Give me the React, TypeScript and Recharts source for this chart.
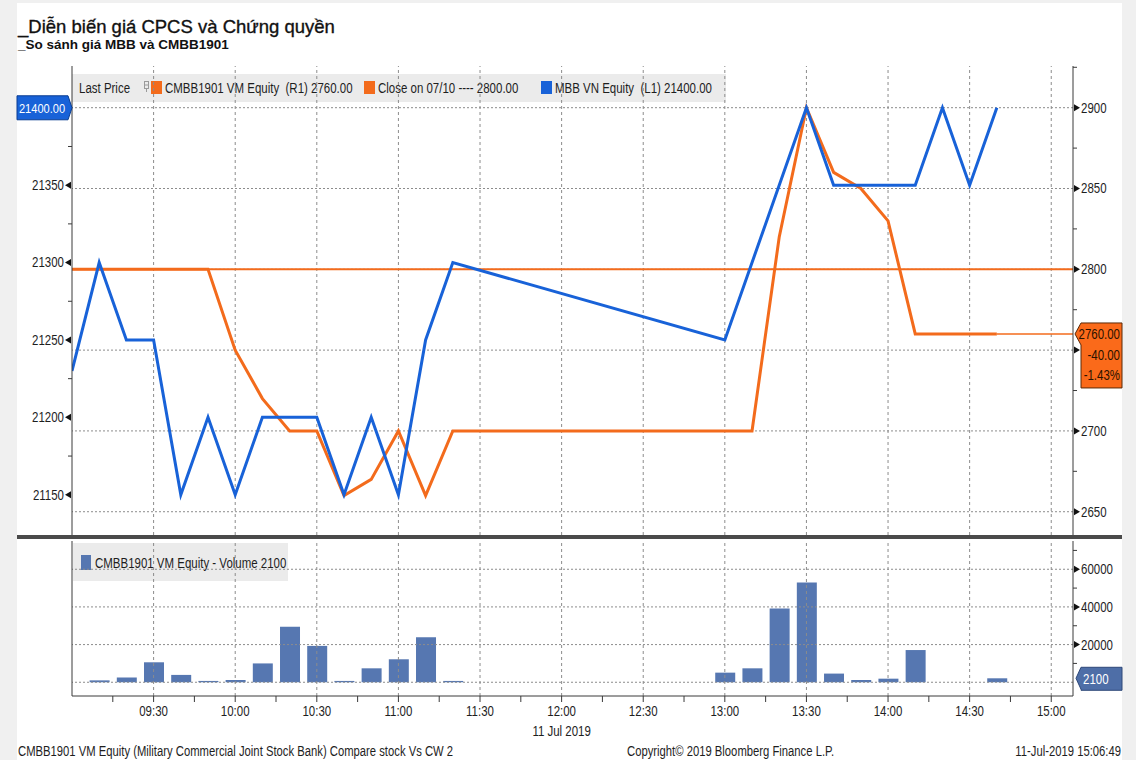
import { ComposedChart, Line, Bar, XAxis, YAxis, ReferenceLine } from "recharts";

// intraday samples, 11 Jul 2019
const times = [
  "09:00", "09:10", "09:20", "09:30", "09:40", "09:50", "10:00", "10:10", "10:20", "10:30",
  "10:40", "10:50", "11:00", "11:10", "11:20", "13:00", "13:10", "13:20", "13:30", "13:40",
  "13:50", "14:00", "14:10", "14:20", "14:30", "14:40",
];
const mbbPrice = [
  21230, 21300, 21250, 21250, 21150, 21200, 21150, 21200, 21200, 21200,
  21150, 21200, 21150, 21250, 21300, 21250, null, null, 21400, 21350,
  21350, 21350, 21350, 21400, 21350, 21400,
];
const cwPrice = [
  2800, 2800, 2800, 2800, 2800, 2800, 2750, 2720, 2700, 2700,
  2660, 2670, 2700, 2660, 2700, 2700, 2700, 2820, 2900, 2860,
  2850, 2830, 2760, 2760, 2760, 2760,
];
const cwVolume = [
  null, 1000, 2500, 10600, 3900, 700, 1200, 10000, 29500, 19300,
  700, 7400, 12200, 23900, 700, 5100, 7400, 39200, 53000, 4600,
  1200, 1900, 17100, null, null, 2100,
];

const prevClose = 2800;
const prevCloseDate = "07/10";

const xMajorTicks = ["09:30", "10:00", "10:30", "11:00", "11:30", "12:00", "12:30", "13:00", "13:30", "14:00", "14:30", "15:00"];
const xMinorTicks = ["09:15", "09:45", "10:15", "10:45", "11:15", "11:45", "12:15", "12:45", "13:15", "13:45", "14:15", "14:45"];
const dateLabel = "11 Jul 2019";
const dateLabelAt = "12:00";

const leftTicks = [21150, 21200, 21250, 21300, 21350];
const leftMinorTicks = [21175, 21225, 21275, 21325, 21375];
const rightTicks = [2650, 2700, 2750, 2800, 2850, 2900];
const rightMinorTicks = [2675, 2725, 2775, 2825, 2875, 2925];
const volumeTicks = [20000, 40000, 60000];
const volumeMinorTicks = [10000, 30000, 50000, 70000];
const volumeGrid = [0, 20000, 40000, 60000];

const timeRange = ["09:00", "15:08"];
const mbbRange = [21124, 21427];
const cwRange = [2635.6, 2925.8];
const volumeRange = [-7300, 75000];

const BLUE = "#1862d8";
const ORANGE = "#f36b1c";
const VOL = "#5677b1";
const GRID = "#8c8c8c";
const AXIS = "#3a3a3a";
const TEXT = "#1e1e1e";
const FONT = '"Liberation Sans", Arial, sans-serif';
const NARROW = 0.82; // no Arial Narrow here, squeeze Liberation Sans instead

const toMin = (s: string) => {
  const [h, m] = s.split(":").map(Number);
  return h * 60 + m;
};
const fmtTime = (v: number) =>
  `${String(Math.floor(v / 60)).padStart(2, "0")}:${String(v % 60).padStart(2, "0")}`;

const data = times.map((t, i) => ({ t: toMin(t), mbb: mbbPrice[i], cw: cwPrice[i], vol: cwVolume[i] }));

const lastMbb = mbbPrice[mbbPrice.length - 1] as number;
const lastCw = cwPrice[cwPrice.length - 1];
const lastVolume = cwVolume[cwVolume.length - 1] as number;
const lastTime = toMin(times[times.length - 1]);
const cwChange = lastCw - prevClose;
const cwChangePct = (cwChange / prevClose) * 100;

const xDomain = [toMin(timeRange[0]), toMin(timeRange[1])];

const NText = ({ x, y, size = 14, anchor = "start", fill = TEXT, children }: any) => (
  <text
    transform={`translate(${x} ${y}) scale(${NARROW} 1)`}
    textAnchor={anchor}
    dominantBaseline="central"
    fontSize={size}
    fontFamily={FONT}
    fill={fill}
    style={{ whiteSpace: "pre" }}
  >
    {children}
  </text>
);

const LeftTick = (props: any) => {
  const { x, y, payload } = props;
  const v = payload.value;
  if (v === lastMbb) {
    return (
      <g>
        <path d={`M${x - 55},${y - 12} H${x - 4} L${x},${y} L${x - 4},${y + 12} H${x - 55} Z`} fill={BLUE} stroke="#0a3d92" />
        <NText x={x - 30} y={y + 1} anchor="middle" fill="#fff" size={13.5}>{lastMbb.toFixed(2)}</NText>
      </g>
    );
  }
  if (leftTicks.includes(v)) {
    return (
      <g>
        <polygon points={`${x - 1},${y - 3.5} ${x - 1},${y + 3.5} ${x - 7},${y}`} fill="#111" />
        <NText x={x - 8} y={y} anchor="end">{v}</NText>
      </g>
    );
  }
  return <line x1={x - 4} x2={x} y1={y} y2={y} stroke={AXIS} />;
};

// the last-price tag covers the tick label just below it
const underCwTag = (v: number) => v < lastCw && v > lastCw - 34;

const RightTick = (props: any) => {
  const { x, y, payload } = props;
  const v = payload.value;
  if (v === lastCw) {
    return (
      <g>
        <path d={`M${x + 2},${y} L${x + 8},${y - 11} H${x + 49} V${y + 54} H${x + 8} V${y + 11} Z`} fill="#fa6a1a" stroke="#5a2a08" />
        <NText x={x + 47} y={y} anchor="end" fill="#2a1200">{lastCw.toFixed(2)}</NText>
        <NText x={x + 47} y={y + 21} anchor="end" fill="#2a1200">{cwChange.toFixed(2)}</NText>
        <NText x={x + 47} y={y + 41} anchor="end" fill="#2a1200">{`${cwChangePct.toFixed(2)}%`}</NText>
      </g>
    );
  }
  if (rightTicks.includes(v)) {
    return (
      <g>
        <polygon points={`${x + 1},${y - 3.5} ${x + 1},${y + 3.5} ${x + 7},${y}`} fill="#111" />
        {!underCwTag(v) && <NText x={x + 8} y={y}>{v}</NText>}
      </g>
    );
  }
  return <line x1={x} x2={x + 4} y1={y} y2={y} stroke={AXIS} />;
};

const VolumeTick = (props: any) => {
  const { x, y, payload } = props;
  const v = payload.value;
  if (v === lastVolume) {
    return (
      <g>
        <path d={`M${x + 3},${y} L${x + 8},${y - 11} H${x + 49} V${y + 12} H${x + 8} V${y + 11} Z`} fill="#4e6ea7" stroke="#2e4878" />
        <NText x={x + 10} y={y + 1} fill="#fff">{lastVolume}</NText>
      </g>
    );
  }
  if (volumeTicks.includes(v)) {
    return (
      <g>
        <polygon points={`${x + 1},${y - 3.5} ${x + 1},${y + 3.5} ${x + 7},${y}`} fill="#111" />
        <NText x={x + 8} y={y}>{v}</NText>
      </g>
    );
  }
  return <line x1={x} x2={x + 4} y1={y} y2={y} stroke={AXIS} />;
};

const TimeTick = (props: any) => {
  const { x, y, payload } = props;
  const v = payload.value;
  const major = v % 30 === 0;
  return (
    <g>
      <line x1={x} x2={x} y1={y} y2={y + 6} stroke={AXIS} />
      {major && <NText x={x} y={y + 15} anchor="middle">{fmtTime(v)}</NText>}
      {v === toMin(dateLabelAt) && <NText x={x} y={y + 35} anchor="middle">{dateLabel}</NText>}
    </g>
  );
};

export default function App() {
  return (
    <div style={{ position: "absolute", left: 0, top: 0, width: 1136, height: 760, background: "#f0f0f0", overflow: "hidden" }}>
      <div style={{ position: "absolute", left: 17, top: 3, width: 1105, height: 757, background: "#fff" }} />

      <div
        style={{
          position: "absolute", left: 18, top: 17, fontFamily: FONT, fontSize: 18.5, lineHeight: "19px",
          color: "#111", whiteSpace: "pre", WebkitTextStroke: "0.35px #111",
        }}
      >
        _Diễn biến giá CPCS và Chứng quyền
      </div>
      <div style={{ position: "absolute", left: 18, top: 38, fontFamily: FONT, fontWeight: 700, fontSize: 13.5, lineHeight: "14px", color: "#111", whiteSpace: "pre" }}>
        _So sánh giá MBB và CMBB1901
      </div>

      {/* legends and footer, under the chart grids */}
      <svg width={1136} height={760} style={{ position: "absolute", left: 0, top: 0 }}>
        <rect x={72} y={74} width={654} height={28} fill="#ebebeb" />
        <NText x={79} y={88}>Last Price</NText>
        <rect x={144.5} y={81.5} width={4} height={7} fill="none" stroke="#9a9a9a" />
        <line x1={144.5} x2={148.5} y1={85} y2={85} stroke="#9a9a9a" />
        <line x1={146.5} x2={146.5} y1={88.5} y2={92} stroke="#9a9a9a" />
        <rect x={151} y={81} width={11} height={13} fill={ORANGE} />
        <NText x={165} y={88}>{`CMBB1901 VM Equity  (R1) ${lastCw.toFixed(2)}`}</NText>
        <rect x={364} y={81} width={11} height={13} fill={ORANGE} />
        <NText x={378} y={88}>{`Close on ${prevCloseDate} ---- ${prevClose.toFixed(2)}`}</NText>
        <rect x={541} y={81} width={11} height={13} fill={BLUE} />
        <NText x={555} y={88}>{`MBB VN Equity  (L1) ${lastMbb.toFixed(2)}`}</NText>

        <rect x={73} y={543} width={215} height={38} fill="#ebebeb" />
        <rect x={81} y={555} width={10} height={15} fill={VOL} />
        <NText x={95} y={563}>{`CMBB1901 VM Equity - Volume ${lastVolume}`}</NText>

        <NText x={18} y={752} size={13.75}>CMBB1901 VM Equity (Military Commercial Joint Stock Bank) Compare stock Vs CW 2</NText>
        <NText x={627} y={752} size={13.75}>Copyright© 2019 Bloomberg Finance L.P.</NText>
        <NText x={1121} y={752} size={13.75} anchor="end">11-Jul-2019 15:06:49</NText>
      </svg>

      <div style={{ position: "absolute", left: 0, top: 0 }}>
        <ComposedChart width={1136} height={540} data={data} margin={{ top: 66, right: 13, bottom: 5, left: 18 }}>
          <XAxis dataKey="t" type="number" domain={xDomain} allowDataOverflow hide />
          <YAxis
            yAxisId="L" orientation="left" width={54} domain={mbbRange} allowDataOverflow
            ticks={[...leftMinorTicks, ...leftTicks, lastMbb]} interval={0}
            tick={LeftTick} tickSize={0} tickMargin={0} tickLine={false} axisLine={{ stroke: AXIS }}
          />
          <YAxis
            yAxisId="R" orientation="right" width={50} domain={cwRange} allowDataOverflow
            ticks={[...rightMinorTicks, ...rightTicks, lastCw]} interval={0}
            tick={RightTick} tickSize={0} tickMargin={0} tickLine={false} axisLine={{ stroke: AXIS }}
          />
          {xMajorTicks.map((t) => (
            <ReferenceLine key={t} yAxisId="R" x={toMin(t)} stroke={GRID} strokeDasharray="3 3" />
          ))}
          {rightTicks.map((v) => (
            <ReferenceLine key={v} yAxisId="R" y={v} stroke={GRID} strokeDasharray="2 2" />
          ))}
          <ReferenceLine yAxisId="R" y={prevClose} stroke={ORANGE} strokeWidth={2} />
          <ReferenceLine
            yAxisId="R"
            segment={[{ x: lastTime, y: lastCw }, { x: xDomain[1], y: lastCw }]}
            stroke={ORANGE}
            strokeWidth={1.5}
          />
          <Line yAxisId="R" dataKey="cw" type="linear" stroke={ORANGE} strokeWidth={3} dot={false} activeDot={false} isAnimationActive={false} />
          <Line yAxisId="L" dataKey="mbb" type="linear" stroke={BLUE} strokeWidth={3} dot={false} activeDot={false} connectNulls isAnimationActive={false} />
        </ComposedChart>
      </div>

      <div style={{ position: "absolute", left: 17, top: 535, width: 1105, height: 4, background: "#4a4a4a" }} />

      <div style={{ position: "absolute", left: 0, top: 540 }}>
        <ComposedChart width={1136} height={220} data={data} margin={{ top: 1, right: 13, bottom: 0, left: 72 }}>
          <XAxis
            dataKey="t" type="number" domain={xDomain} allowDataOverflow height={64}
            ticks={[...xMinorTicks, ...xMajorTicks].map(toMin)} interval={0}
            tick={TimeTick} tickSize={0} tickMargin={0} tickLine={false} axisLine={{ stroke: AXIS }}
          />
          <YAxis
            yAxisId="V" orientation="right" width={50} domain={volumeRange} allowDataOverflow
            ticks={[...volumeMinorTicks, ...volumeTicks, lastVolume]} interval={0}
            tick={VolumeTick} tickSize={0} tickMargin={0} tickLine={false} axisLine={{ stroke: AXIS }}
          />
          {xMajorTicks.map((t) => (
            <ReferenceLine key={t} yAxisId="V" x={toMin(t)} stroke={GRID} strokeDasharray="3 3" />
          ))}
          {volumeGrid.map((v) => (
            <ReferenceLine key={v} yAxisId="V" y={v} stroke={GRID} strokeDasharray="2 2" />
          ))}
          <ReferenceLine yAxisId="V" x={xDomain[0]} stroke={AXIS} />
          <Bar yAxisId="V" dataKey="vol" fill={VOL} barSize={20} isAnimationActive={false} />
        </ComposedChart>
      </div>
    </div>
  );
}
